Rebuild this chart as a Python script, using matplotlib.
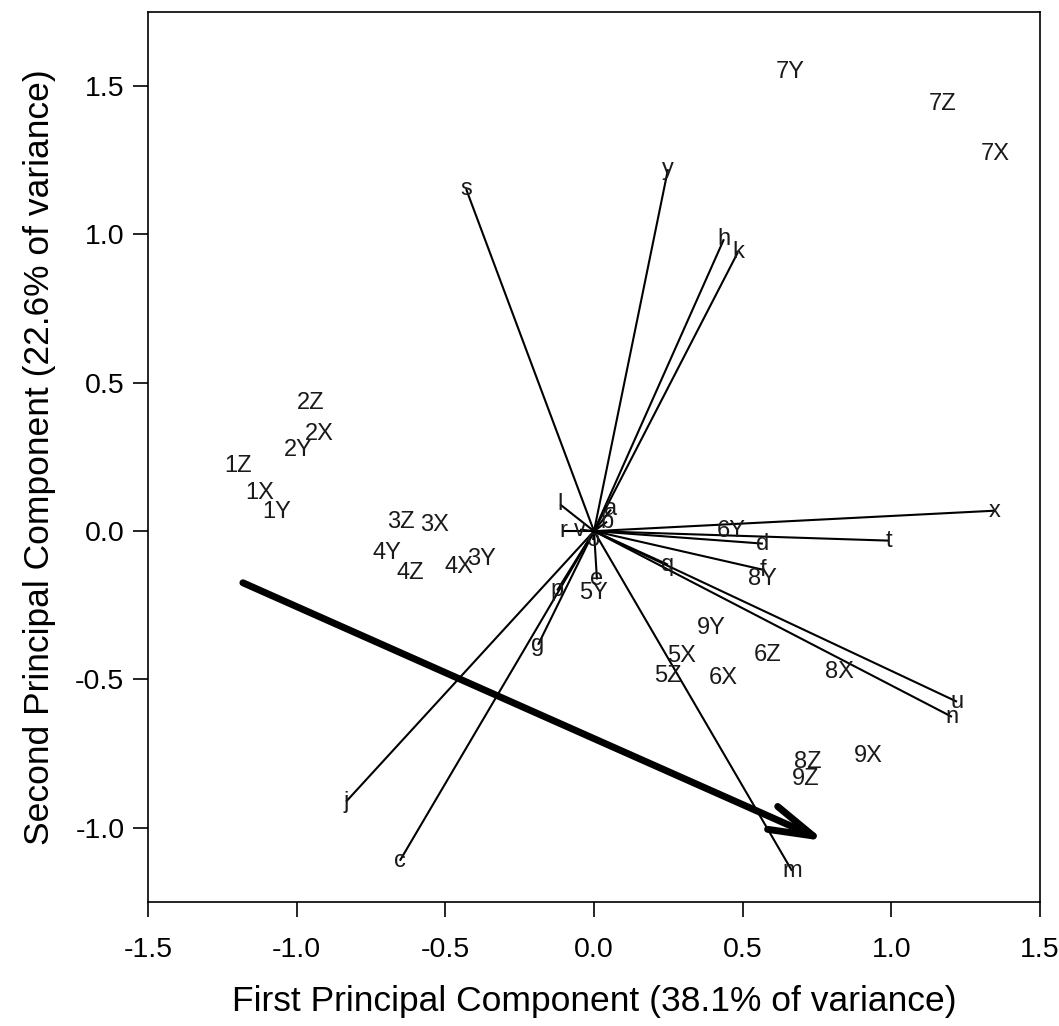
import matplotlib
matplotlib.use("Agg")
import matplotlib.pyplot as plt

plt.rcParams['font.family'] = ['Liberation Sans', 'DejaVu Sans']

# variable loadings (vector tips)
var_names = ['s', 'y', 'h', 'k', 'x', 't', 'd', 'f', 'u', 'n', 'q', 'm',
             'c', 'j', 'g', 'p', 'e', 'l', 'r', 'v', 'a', 'b', 'o']
var_x = [-0.43, 0.249, 0.437, 0.484, 1.349, 0.992, 0.568, 0.568, 1.221, 1.204,
         0.249, 0.666, -0.653, -0.834, -0.188, -0.124, 0.01, -0.114, -0.104,
         -0.047, 0.057, 0.044, -0.003]
var_y = [1.153, 1.22, 0.984, 0.94, 0.069, -0.032, -0.042, -0.13, -0.575, -0.626,
         -0.113, -1.145, -1.111, -0.912, -0.383, -0.2, -0.163, 0.09, 0.0,
         0.005, 0.073, 0.032, -0.03]

# sample scores
obs_names = ['7Y', '7Z', '7X', '2Z', '2X', '2Y', '1Z', '1X', '1Y', '3Z', '3X',
             '4Y', '4Z', '4X', '3Y', '6Y', '8Y', '5Y', '9Y', '5X', '6Z', '5Z',
             '6X', '8X', '9X', '8Z', '9Z']
obs_x = [0.659, 1.174, 1.349, -0.952, -0.925, -0.996, -1.197, -1.123, -1.066,
         -0.649, -0.538, -0.696, -0.619, -0.454, -0.38, 0.461, 0.568, 0.0,
         0.394, 0.296, 0.585, 0.249, 0.434, 0.824, 0.922, 0.72, 0.713]
obs_y = [1.547, 1.439, 1.270, 0.431, 0.326, 0.275, 0.221, 0.130, 0.063,
         0.032, 0.022, -0.072, -0.140, -0.12, -0.093, 0.002, -0.163, -0.207,
         -0.325, -0.42, -0.417, -0.487, -0.494, -0.474, -0.757, -0.777, -0.834]

# big trend arrow
trend_start = (-1.181, -0.174)
trend_end = (0.777, -1.045)

fig = plt.figure(figsize=(10.59, 10.26), dpi=100)
ax = fig.add_axes([0.1398, 0.1209, 0.8422, 0.8674])

for name, vx, vy in zip(var_names, var_x, var_y):
    ax.plot([0, vx], [0, vy], color='black', lw=1.5, solid_capstyle='butt')
    ax.text(vx, vy, name, ha='center', va='center', fontsize=17, color='#1a1a1a')

for name, ox, oy in zip(obs_names, obs_x, obs_y):
    ax.text(ox, oy, name, ha='center', va='center', fontsize=17, color='#1a1a1a')

ax.annotate('', xy=trend_end, xytext=trend_start,
            arrowprops=dict(arrowstyle='->,head_length=3.2,head_width=0.9',
                            lw=5, color='black', shrinkA=0, shrinkB=0,
                            joinstyle='round', capstyle='round'))

ax.set_xlim(-1.5, 1.5)
ax.set_ylim(-1.25, 1.75)
ax.set_xticks([-1.5, -1.0, -0.5, 0.0, 0.5, 1.0, 1.5])
ax.set_yticks([-1.0, -0.5, 0.0, 0.5, 1.0, 1.5])
ax.set_xticklabels(['-1.5', '-1.0', '-0.5', '0.0', '0.5', '1.0', '1.5'])
ax.set_yticklabels(['-1.0', '-0.5', '0.0', '0.5', '1.0', '1.5'])
ax.tick_params(direction='out', length=11, width=1.2, labelsize=20.5)
ax.tick_params(axis='x', pad=14)
ax.tick_params(axis='y', pad=6)
for sp in ax.spines.values():
    sp.set_linewidth(1.2)

ax.set_xlabel('First Principal Component (38.1% of variance)', fontsize=25.5, labelpad=16)
ax.set_ylabel('Second Principal Component (22.6% of variance)', fontsize=25.5, labelpad=14)

fig.savefig('out.png', dpi=100)
